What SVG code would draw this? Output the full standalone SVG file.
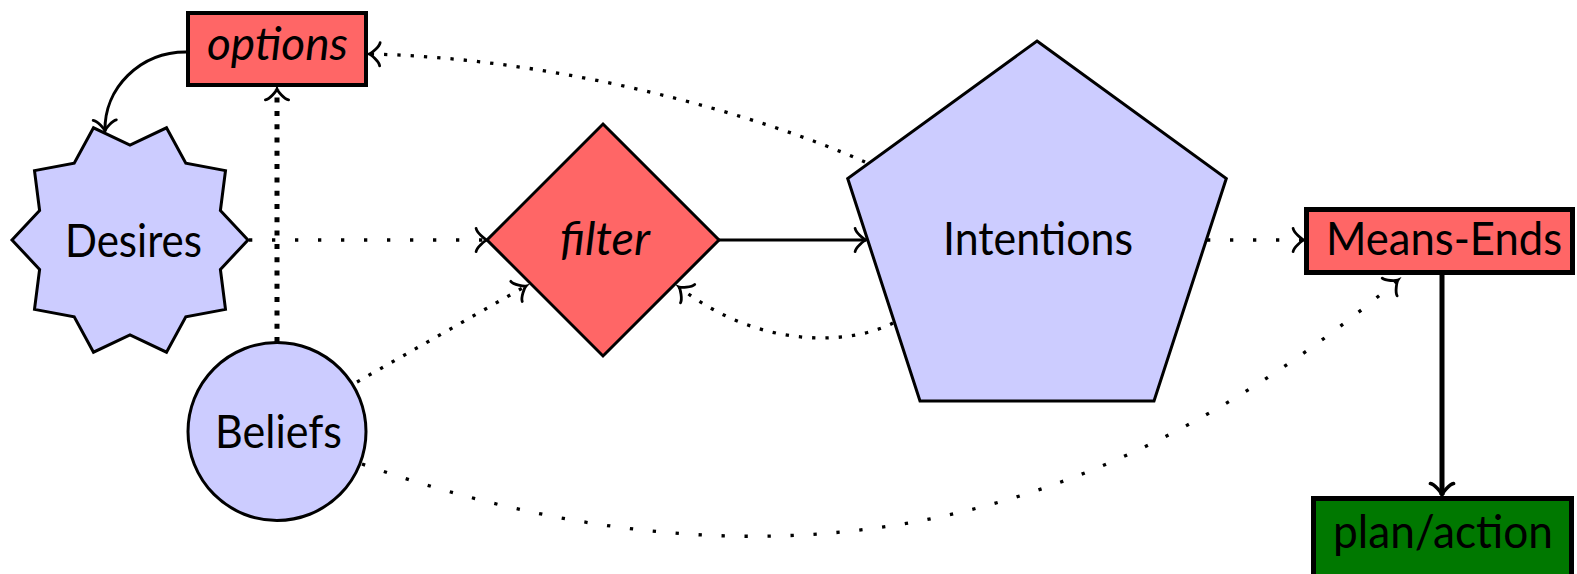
<svg xmlns="http://www.w3.org/2000/svg" width="1577" height="574" viewBox="0 0 1577 574">
<style>
.lbl{font-family:Lato,"Open Sans","DejaVu Sans",sans-serif;font-size:46px;fill:#000;text-anchor:middle}
.it{font-style:italic}
.red{fill:#FF6666;stroke:#000}
.blue{fill:#CCCCFF;stroke:#000;stroke-width:3}
.con{fill:none;stroke:#000;stroke-width:3}
.dense{stroke-width:3.3;stroke-dasharray:3.3 10}
.loose{stroke-width:3.3;stroke-dasharray:3.3 19.7}
.thickdot{stroke-width:5;stroke-dasharray:5 8.3}
</style>
<defs>
<marker id="to" markerUnits="userSpaceOnUse" markerWidth="30" markerHeight="30" viewBox="-15 -15 30 30" refX="0" refY="0" orient="auto" overflow="visible">
<path d="M-10.9,-11.6 C-10.2,-7.25 -2.2,-0.7 0,0 C-2.2,0.7 -10.2,7.25 -10.9,11.6" fill="none" stroke="#000" stroke-width="2.8" stroke-linecap="round" stroke-dasharray="none"/>
</marker>
<marker id="tothick" markerUnits="userSpaceOnUse" markerWidth="30" markerHeight="30" viewBox="-15 -15 30 30" refX="0" refY="0" orient="auto" overflow="visible">
<path d="M-11.5,-11.6 C-10.8,-7.25 -2.4,-0.7 0,0 C-2.4,0.7 -10.8,7.25 -11.5,11.6" fill="none" stroke="#000" stroke-width="3.6" stroke-linecap="round" stroke-dasharray="none"/>
</marker>
</defs>

<g id="connectors">
<path class="con" d="M186,52 C140,52 104,88 105,131" marker-end="url(#to)"/>
<path class="con thickdot" d="M277,342 L277,89" marker-end="url(#to)"/>
<path class="con loose" d="M249,240 L487,240" marker-end="url(#to)"/>
<path class="con dense" d="M357,382 L526,286" marker-end="url(#to)"/>
<path class="con" d="M719,240 L866,240" marker-end="url(#to)"/>
<path class="con dense" d="M893,323 C850,345 760,350 679,287" marker-end="url(#to)"/>
<path class="con dense" d="M865,162 C760,115 560,58 369,54" marker-end="url(#to)"/>
<path class="con loose" d="M1207,240 L1304,240" marker-end="url(#to)"/>
<path class="con loose" d="M362,464 C751,600 1082,547 1398,280" marker-end="url(#to)"/>
<path class="con" style="stroke-width:5" d="M1442,275 L1442,495" marker-end="url(#tothick)"/>
</g>

<g id="options">
<rect class="red" x="188" y="13" width="178" height="72" stroke-width="4"/>
<text class="lbl it" x="277.5" y="60" textLength="141" lengthAdjust="spacingAndGlyphs">options</text>
</g>

<g id="desires">
<polygon class="blue" points="248,240 220.4,210.6 225.5,170.6 185.8,163.1 166.5,127.8 130,145 93.5,127.8 74.2,163.1 34.5,170.6 39.6,210.6 12,240 39.6,269.4 34.5,309.4 74.2,316.9 93.5,352.2 130,335 166.5,352.2 185.8,316.9 225.5,309.4 220.4,269.4"/>
<text class="lbl" x="133.5" y="257" textLength="137" lengthAdjust="spacingAndGlyphs">Desires</text>
</g>

<g id="beliefs">
<circle class="blue" cx="277" cy="431.5" r="89"/>
<text class="lbl" x="278.5" y="448" textLength="127" lengthAdjust="spacingAndGlyphs">Beliefs</text>
</g>

<g id="filter">
<polygon class="red" points="603,124 719,240 603,356 487,240" stroke-width="3"/>
<text class="lbl it" x="605" y="255" textLength="90" lengthAdjust="spacingAndGlyphs">filter</text>
</g>

<g id="intentions">
<polygon class="blue" points="1037,41 1226.3,178.5 1154,401 920,401 847.7,178.5"/>
<text class="lbl" x="1038" y="255" textLength="190" lengthAdjust="spacingAndGlyphs">Intentions</text>
</g>

<g id="means-ends">
<rect class="red" x="1306.5" y="209.5" width="266" height="63" stroke-width="5"/>
<text class="lbl" x="1444" y="255" textLength="236" lengthAdjust="spacingAndGlyphs">Means-Ends</text>
</g>

<g id="plan-action">
<rect x="1313.5" y="498.5" width="258" height="100" fill="#007800" stroke="#000" stroke-width="5"/>
<text class="lbl" x="1443" y="548" textLength="220" lengthAdjust="spacingAndGlyphs">plan/action</text>
</g>
</svg>
